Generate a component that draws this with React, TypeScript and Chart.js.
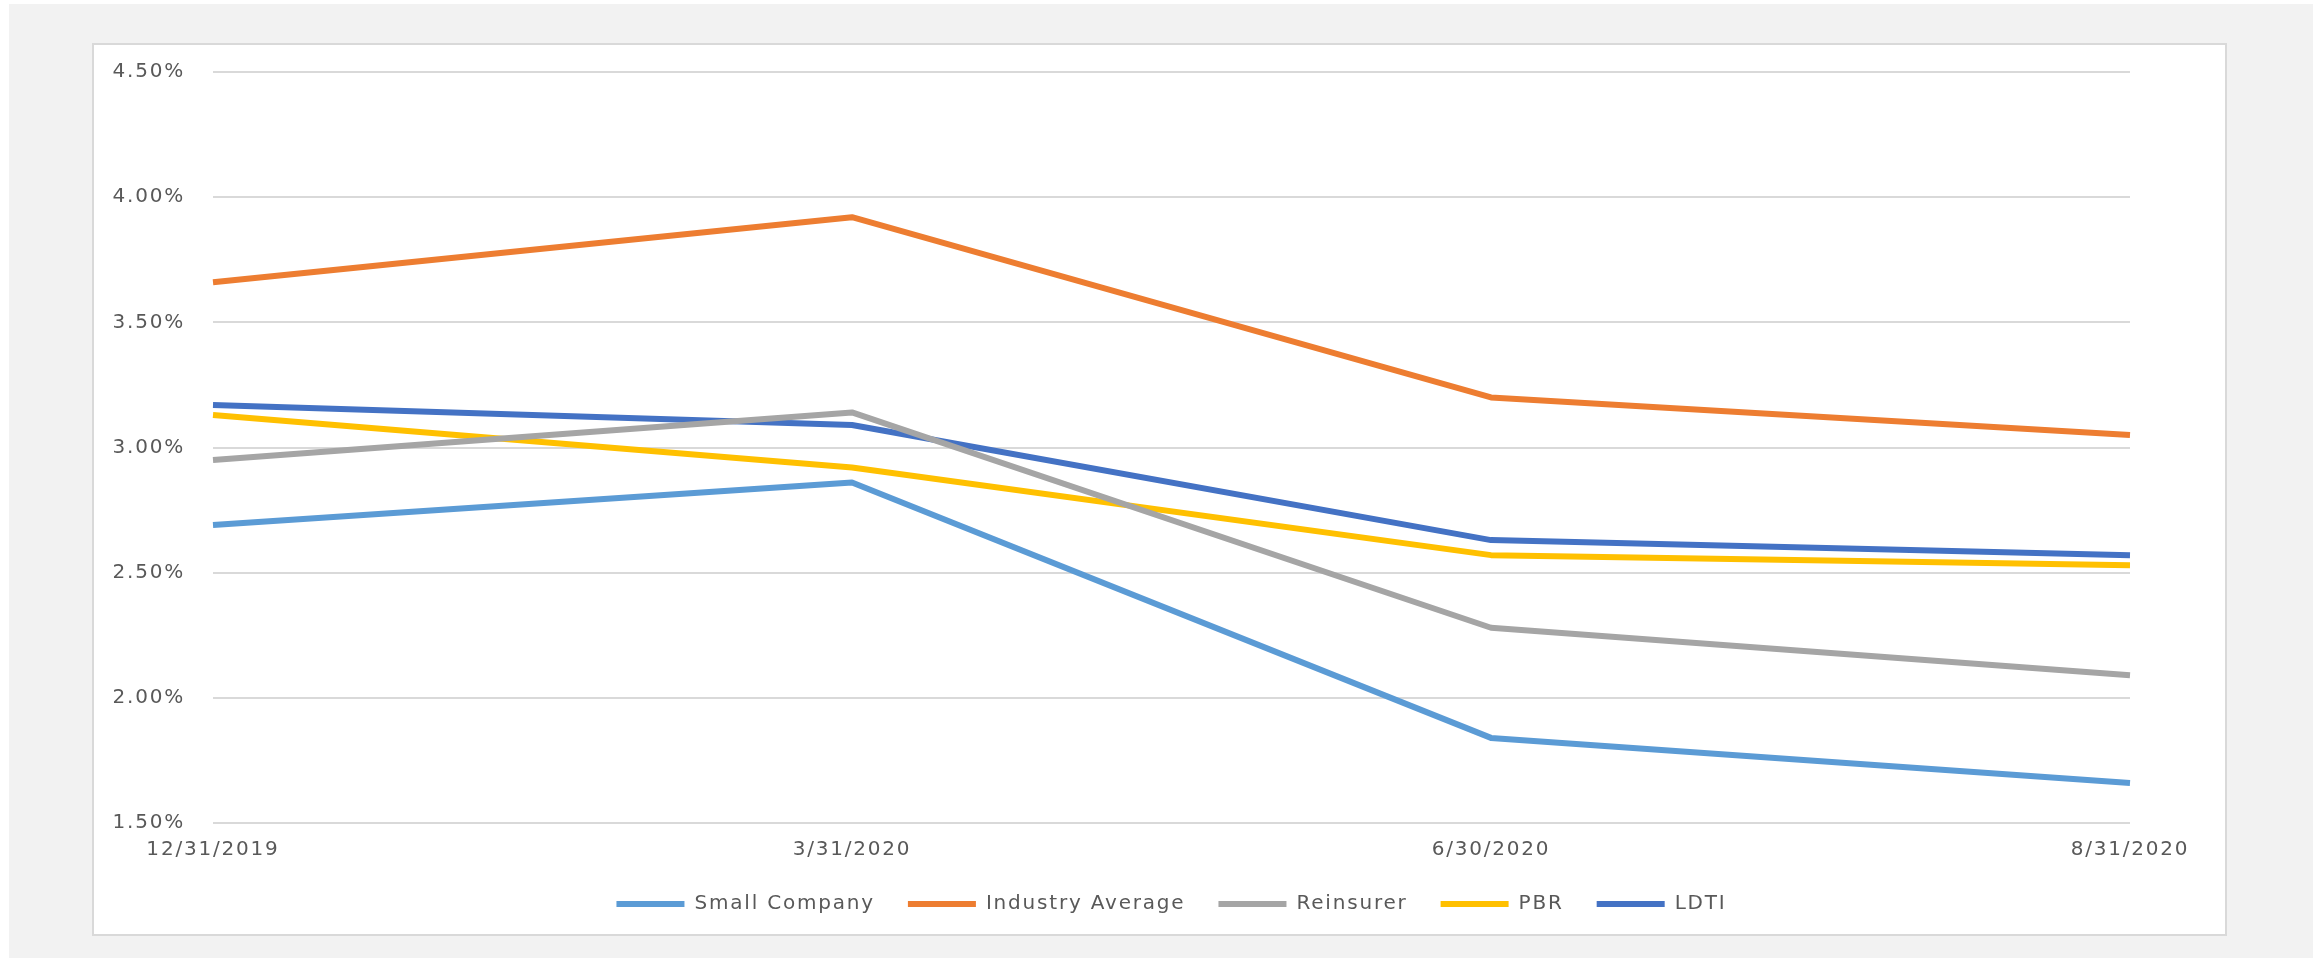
import React, { useEffect, useRef } from 'react';
import { Chart, registerables } from 'chart.js';

Chart.register(...registerables);

// ---- data ----
const categories = ['12/31/2019', '3/31/2020', '6/30/2020', '8/31/2020'];
const smallCompany = [2.69, 2.86, 1.84, 1.66];
const industryAverage = [3.66, 3.92, 3.2, 3.05];
const reinsurer = [2.95, 3.14, 2.28, 2.09];
const pbr = [3.13, 2.92, 2.57, 2.53];
const ldti = [3.17, 3.09, 2.63, 2.57];
const seriesNames = ['Small Company', 'Industry Average', 'Reinsurer', 'PBR', 'LDTI'];
const seriesColors = ['#5B9BD5', '#ED7D31', '#A5A5A5', '#FFC000', '#4472C4'];
const yMin = 1.5;
const yMax = 4.5;
const yStep = 0.5;

const TEXT_COLOR = '#595959';
const GRID_COLOR = '#d9d9d9';
const FONT = { family: "'DejaVu Sans', sans-serif", size: 20 };

const spacingPlugin = {
  id: 'letterSpacing',
  beforeUpdate(chart: any) {
    chart.ctx.letterSpacing = '1.8px';
  },
  beforeDraw(chart: any) {
    chart.ctx.letterSpacing = '1.8px';
  },
};

export default function App() {
  const canvasRef = useRef<HTMLCanvasElement | null>(null);

  useEffect(() => {
    const canvas = canvasRef.current;
    if (!canvas) return;
    const seriesValues = [smallCompany, industryAverage, reinsurer, pbr, ldti];
    const chart = new Chart(canvas, {
      type: 'line',
      data: {
        labels: categories,
        datasets: seriesNames.map((name, i) => ({
          label: name,
          data: seriesValues[i],
          borderColor: seriesColors[i],
          backgroundColor: seriesColors[i],
          borderWidth: 6,
          pointRadius: 0,
          pointHoverRadius: 0,
          tension: 0,
          fill: false,
          borderJoinStyle: 'round' as const,
        })),
      },
      options: {
        responsive: false,
        animation: false,
        events: [],
        layout: { padding: { top: 72, right: 191, bottom: 34, left: 0 } },
        scales: {
          x: {
            offset: false,
            grid: { display: false, drawTicks: false },
            border: { display: false },
            ticks: {
              font: { ...FONT, lineHeight: 1 },
              color: TEXT_COLOR,
              padding: 17,
              maxRotation: 0,
              autoSkip: false,
            },
            afterFit: (scale: any) => {
              scale.height = 38;
            },
          },
          y: {
            min: yMin,
            max: yMax,
            grid: { color: GRID_COLOR, lineWidth: 2, drawTicks: false },
            border: { display: false },
            ticks: {
              stepSize: yStep,
              font: FONT,
              color: TEXT_COLOR,
              padding: 28,
              callback: (v: any) => Number(v).toFixed(2) + '%',
            },
            afterFit: (scale: any) => {
              scale.width = 213;
            },
          },
        },
        plugins: {
          title: { display: false },
          tooltip: { enabled: false },
          legend: {
            position: 'bottom',
            fullSize: false,
            labels: {
              font: FONT,
              color: TEXT_COLOR,
              boxWidth: 68,
              boxHeight: 6,
              padding: 33,
              generateLabels: (c: any) =>
                c.data.datasets.map((ds: any, i: number) => ({
                  text: ds.label,
                  fillStyle: ds.borderColor,
                  strokeStyle: ds.borderColor,
                  lineWidth: 0,
                  hidden: false,
                  datasetIndex: i,
                  fontColor: TEXT_COLOR,
                })),
            },
          },
        },
      },
      plugins: [spacingPlugin],
    } as any);
    return () => chart.destroy();
  }, []);

  return (
    <div style={{ position: 'fixed', left: 0, top: 0, width: 2321, height: 958, background: '#ffffff' }}>
      <div style={{ position: 'absolute', left: 9, top: 4, width: 2304, height: 954, background: '#f2f2f2' }} />
      <div
        style={{
          position: 'absolute',
          left: 92,
          top: 43,
          width: 2135,
          height: 893,
          background: '#ffffff',
          border: '2px solid #d9d9d9',
          boxSizing: 'border-box',
        }}
      />
      <canvas
        ref={canvasRef}
        width={2321}
        height={958}
        style={{ position: 'absolute', left: 0, top: 0, width: 2321, height: 958 }}
      />
    </div>
  );
}
